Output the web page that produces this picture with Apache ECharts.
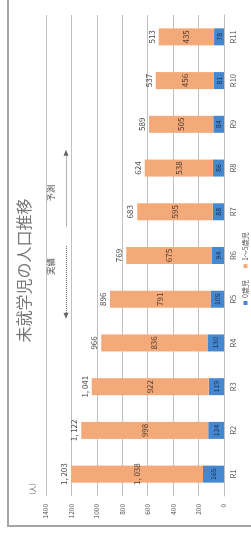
<!DOCTYPE html>
<html>
<head>
<meta charset="utf-8">
<script src="https://cdn.jsdelivr.net/npm/echarts@6/dist/echarts.min.js"></script>
<style>
  html, body { margin: 0; padding: 0; background: #fff; overflow: hidden; }
  /* 原図は横向き(左90度回転)なので、541x251で描いてから回す */
  #wrap {
    position: absolute; left: 0; top: 0;
    width: 541px; height: 251px;
    transform-origin: top left;
    transform: translateY(541px) rotate(-90deg);
  }
  #frame {
    position: absolute; left: 14px; top: 7px; width: 540px; height: 260px;
    border: 2px solid #a3a3a3; box-sizing: border-box;
  }
  #chart { position: absolute; left: 0; top: 0; width: 541px; height: 251px; }
</style>
</head>
<body>
<div id="wrap">
  <div id="frame"></div>
  <div id="chart"></div>
</div>
<script>
const categories = ['R1', 'R2', 'R3', 'R4', 'R5', 'R6', 'R7', 'R8', 'R9', 'R10', 'R11'];
const age0 = [165, 124, 119, 130, 105, 94, 88, 86, 84, 81, 78];
const age1to5 = [1038, 998, 922, 836, 791, 675, 595, 538, 505, 456, 435];
const totals = [1203, 1122, 1041, 966, 896, 769, 683, 624, 589, 537, 513];
const seriesNames = ['0歳児', '1～5歳児'];

// 実績/予測の区切り(カテゴリ番号の位置)
const dividerAt = 5.5;
const dividerSpan = [0, 1470];
const actualArrow = [5.22, 3.62];
const forecastArrow = [5.66, 7.35];
const arrowLevel = 1243;
const noteLevel = 1360;
const notes = [['実績', 4.75], ['予測', 6.43]];

const fmt = v => v.toLocaleString('en-US').replace(',', ', ');

const chart = echarts.init(document.getElementById('chart'));
const option = {
  animation: false,
  textStyle: { fontFamily: '"Noto Sans CJK JP", "DejaVu Sans", sans-serif' },
  title: {
    text: '未就学児の人口推移',
    left: 'center',
    top: 16,
    padding: [0, 0, 0, 28],
    textStyle: { fontSize: 16, fontWeight: 'normal', color: '#777' }
  },
  legend: {
    data: seriesNames,
    left: 231,
    top: 237,
    itemWidth: 4,
    itemHeight: 4,
    itemGap: 12,
    icon: 'rect',
    textStyle: { fontSize: 7, color: '#555', padding: [0, 0, 0, -2] }
  },
  grid: { left: 45, right: 15, top: 46, bottom: 27 },
  xAxis: [
    {
      type: 'category',
      data: categories,
      axisTick: { show: false },
      axisLine: { lineStyle: { color: '#c0c0c0' } },
      axisLabel: { fontSize: 7.5, color: '#555', margin: 5 }
    },
    { type: 'value', min: -0.5, max: 10.5, show: false }
  ],
  yAxis: {
    type: 'value',
    min: 0,
    max: 1400,
    interval: 200,
    name: '(人)',
    nameGap: 10,
    nameTextStyle: { fontSize: 7, color: '#666', align: 'right', padding: [0, 9, 0, 0] },
    axisLine: { show: false },
    axisTick: { show: false },
    splitLine: { lineStyle: { color: '#c0c0c0' } },
    axisLabel: { fontSize: 6.5, color: '#555', margin: 8, formatter: v => String(v) }
  },
  series: [
    {
      name: seriesNames[0],
      type: 'bar',
      stack: 'total',
      barWidth: 17,
      data: age0,
      itemStyle: { color: '#4588cf' },
      label: { show: true, position: 'inside', fontSize: 7, color: '#1d2f52' }
    },
    {
      name: seriesNames[1],
      type: 'bar',
      stack: 'total',
      barWidth: 17,
      data: age1to5,
      itemStyle: { color: '#f4a979' },
      label: { show: true, position: 'inside', fontSize: 8, color: '#4a3a30', formatter: p => fmt(p.value) }
    },
    {
      name: '合計',
      type: 'bar',
      barWidth: 17,
      barGap: '-100%',
      z: 1,
      data: totals,
      itemStyle: { color: 'rgba(0,0,0,0)' },
      label: { show: true, position: 'top', distance: 3, fontSize: 8, color: '#444', formatter: p => fmt(p.value) },
      tooltip: { show: false }
    },
    {
      name: 'note',
      type: 'line',
      xAxisIndex: 1,
      data: [],
      symbol: 'none',
      clip: false,
      markLine: {
        silent: true,
        animation: false,
        label: { show: false },
        data: [
          [
            { coord: [dividerAt, dividerSpan[0]], symbol: 'none', lineStyle: { type: 'dotted', color: '#8a8a8a', width: 1 } },
            { coord: [dividerAt, dividerSpan[1]], symbol: 'none' }
          ],
          [
            { coord: [actualArrow[0], arrowLevel], symbol: 'none', lineStyle: { type: 'dotted', color: '#666', width: 1 } },
            { coord: [actualArrow[1], arrowLevel], symbol: 'triangle', symbolSize: [5, 6] }
          ],
          [
            { coord: [forecastArrow[0], arrowLevel], symbol: 'none', lineStyle: { type: 'dotted', color: '#666', width: 1 } },
            { coord: [forecastArrow[1], arrowLevel], symbol: 'triangle', symbolSize: [5, 6] }
          ]
        ]
      },
      markPoint: {
        silent: true,
        symbol: 'rect',
        symbolSize: 1,
        itemStyle: { color: 'rgba(0,0,0,0)' },
        label: { show: true, position: 'inside', fontSize: 8.5, color: '#555', formatter: p => p.name },
        data: notes.map(n => ({ name: n[0], coord: [n[1], noteLevel] }))
      }
    }
  ]
};
chart.setOption(option);
</script>
</body>
</html>
